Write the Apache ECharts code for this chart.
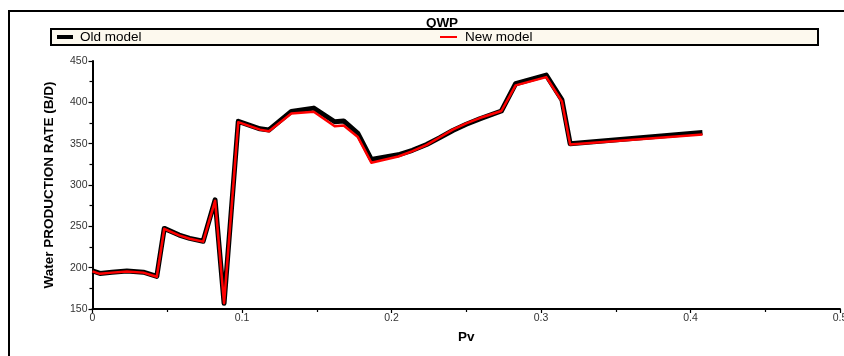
<!DOCTYPE html>
<html>
<head>
<meta charset="utf-8">
<script src="https://cdn.jsdelivr.net/npm/echarts@6/dist/echarts.min.js"></script>
<style>
  html, body { margin: 0; padding: 0; background: #fff; }
  #chart { width: 844px; height: 356px; }
</style>
</head>
<body>
<div id="chart"></div>
<script>
// Pore volumes injected (x) and water production rate for both models
const pv = [0, 0.005, 0.013, 0.023, 0.034, 0.043, 0.048, 0.058, 0.065, 0.074, 0.082,
  0.088, 0.0975, 0.112, 0.118, 0.133, 0.148, 0.162, 0.168, 0.1775, 0.1865,
  0.2045, 0.214, 0.2235, 0.232, 0.241, 0.25, 0.259, 0.2735, 0.283, 0.3035,
  0.314, 0.3195, 0.408];
const oldRate = [196, 193, 194.5, 196, 194.5, 189.5, 247.5, 239.5, 235.5, 232, 282,
  157, 377, 368, 366.5, 389, 393, 376.5, 377.5, 362.5, 331,
  336.5, 342, 349, 357, 366, 373.5, 380, 389.5, 422.5, 433,
  403, 350, 363.5];
const newRate = [195.5, 192.5, 194, 195.5, 194, 189, 247, 239, 235, 231.5, 281,
  157, 376, 367, 365, 386.5, 388.5, 371, 372, 358, 327,
  334.5, 341, 348.5, 357.5, 367, 374.5, 381, 389.5, 420.5, 430.5,
  401, 349, 361];
const xTicks = { min: 0, max: 0.5, interval: 0.1 };
const yTicks = { min: 150, max: 450, interval: 50 };

const toPairs = (xs, ys) => xs.map((x, i) => [x, ys[i]]);

const chart = echarts.init(document.getElementById('chart'), null, { renderer: 'canvas' });
const FONT = 'Liberation Sans, Arial, sans-serif';

chart.setOption({
  animation: false,
  backgroundColor: '#ffffff',
  title: {
    text: 'QWP',
    left: 437,
    top: 11,
    textAlign: 'center',
    textStyle: { fontFamily: FONT, fontSize: 13.5, fontWeight: 'bold', color: '#000' }
  },
  graphic: [
    {
      type: 'rect', z: -1, silent: true,
      shape: { x: 9, y: 11, width: 900, height: 400 },
      style: { fill: 'none', stroke: '#000', lineWidth: 2 }
    },
    {
      type: 'rect', z: 0, silent: true,
      shape: { x: 51, y: 29, width: 767, height: 16 },
      style: { fill: '#fdf9ee', stroke: '#000', lineWidth: 2 }
    }
  ],
  legend: [
    {
      data: ['Old model'], left: 57, top: 30, z: 5,
      icon: 'rect', itemWidth: 16, itemHeight: 4, itemGap: 0,
      textStyle: { fontFamily: FONT, fontSize: 13.5, color: '#000', padding: [0, 0, 0, 2] },
      padding: 0
    },
    {
      data: ['New model'], left: 440, top: 30, z: 5,
      icon: 'rect', itemWidth: 17, itemHeight: 2, itemGap: 0,
      textStyle: { fontFamily: FONT, fontSize: 13.5, color: '#000', padding: [0, 0, 0, 3] },
      padding: 0
    }
  ],
  grid: { left: 92.5, right: 4, top: 61, bottom: 47, containLabel: false, outerBoundsMode: 'none' },
  xAxis: {
    type: 'value',
    min: xTicks.min, max: xTicks.max, interval: xTicks.interval,
    name: 'Pv', nameLocation: 'middle', nameGap: 21,
    nameTextStyle: { fontFamily: FONT, fontSize: 13.5, fontWeight: 'bold', color: '#000' },
    axisLine: { show: true, lineStyle: { color: '#000', width: 2 } },
    axisTick: { show: true, length: 4, lineStyle: { color: '#000', width: 1.2 } },
    minorTick: { show: true, splitNumber: 2, length: 3, lineStyle: { color: '#000', width: 1.2 } },
    splitLine: { show: false },
    axisLabel: {
      fontFamily: FONT, fontSize: 10.5, color: '#333', margin: 4,
      showMinLabel: true, showMaxLabel: true, hideOverlap: false,
      formatter: v => String(+v.toFixed(2))
    }
  },
  yAxis: {
    type: 'value',
    min: yTicks.min, max: yTicks.max, interval: yTicks.interval,
    name: 'Water PRODUCTION RATE (B/D)', nameLocation: 'middle', nameGap: 36,
    nameTextStyle: { fontFamily: FONT, fontSize: 13.5, fontWeight: 'bold', color: '#000' },
    axisLine: { show: true, lineStyle: { color: '#000', width: 2 } },
    axisTick: { show: true, length: 4, lineStyle: { color: '#000', width: 1.2 } },
    minorTick: { show: true, splitNumber: 2, length: 3, lineStyle: { color: '#000', width: 1.2 } },
    splitLine: { show: false },
    axisLabel: { fontFamily: FONT, fontSize: 10.5, color: '#333', margin: 5 }
  },
  series: [
    {
      name: 'Old model', type: 'line', data: toPairs(pv, oldRate),
      symbol: 'none', z: 2,
      itemStyle: { color: '#000' },
      lineStyle: { color: '#000', width: 5, join: 'round' }
    },
    {
      name: 'New model', type: 'line', data: toPairs(pv, newRate),
      symbol: 'none', z: 3,
      itemStyle: { color: '#ff0000' },
      lineStyle: { color: '#ff0000', width: 2.5, join: 'round' }
    }
  ]
});
</script>
</body>
</html>
